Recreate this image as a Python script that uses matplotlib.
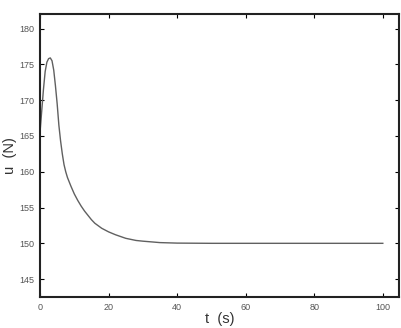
import matplotlib
matplotlib.use("Agg")
import matplotlib.pyplot as plt

t = [0, 0.5, 1, 1.5, 2, 2.5, 3, 3.5, 4, 4.5, 5, 5.5, 6, 6.5, 7, 7.5, 8, 9, 10,
     11, 12, 13, 14, 15, 16, 18, 20, 22, 25, 28, 30, 35, 40, 50, 60, 70, 80, 90, 100]
u = [165.5, 168.5, 171.5, 174.0, 175.3, 175.8, 175.9, 175.5, 174.2, 172.0, 169.5,
     166.5, 164.3, 162.5, 161.0, 160.0, 159.2, 158.0, 156.9, 156.0, 155.2, 154.5,
     153.9, 153.3, 152.8, 152.1, 151.6, 151.2, 150.7, 150.4, 150.3, 150.1, 150.03,
     150.0, 150.0, 150.0, 150.0, 150.0, 150.0]

xticks = [0, 20, 40, 60, 80, 100]
yticks = [145, 150, 155, 160, 165, 170, 175, 180]

plt.rcParams['font.family'] = ['Liberation Sans', 'DejaVu Sans']
fig = plt.figure(figsize=(4.01, 3.28), dpi=100)
ax = fig.add_axes([0.0998, 0.0945, 0.895, 0.862])
ax.plot(t, u, color='#606060', lw=1.0)
ax.set_xlim(0, 104.7)
ax.set_ylim(142.5, 182)
ax.set_xticks(xticks)
ax.set_yticks(yticks)
ax.tick_params(direction='in', top=True, right=True, length=3, width=0.8,
               labelsize=6.5, labelcolor='#555555', pad=4)
for s in ax.spines.values():
    s.set_linewidth(1.5)
    s.set_color('#222222')
ax.set_xlabel('t  (s)', fontsize=10.5, color='#333333', labelpad=0)
ax.set_ylabel('u  (N)', fontsize=10.5, color='#333333', labelpad=2)
fig.savefig('out.png', dpi=100)
